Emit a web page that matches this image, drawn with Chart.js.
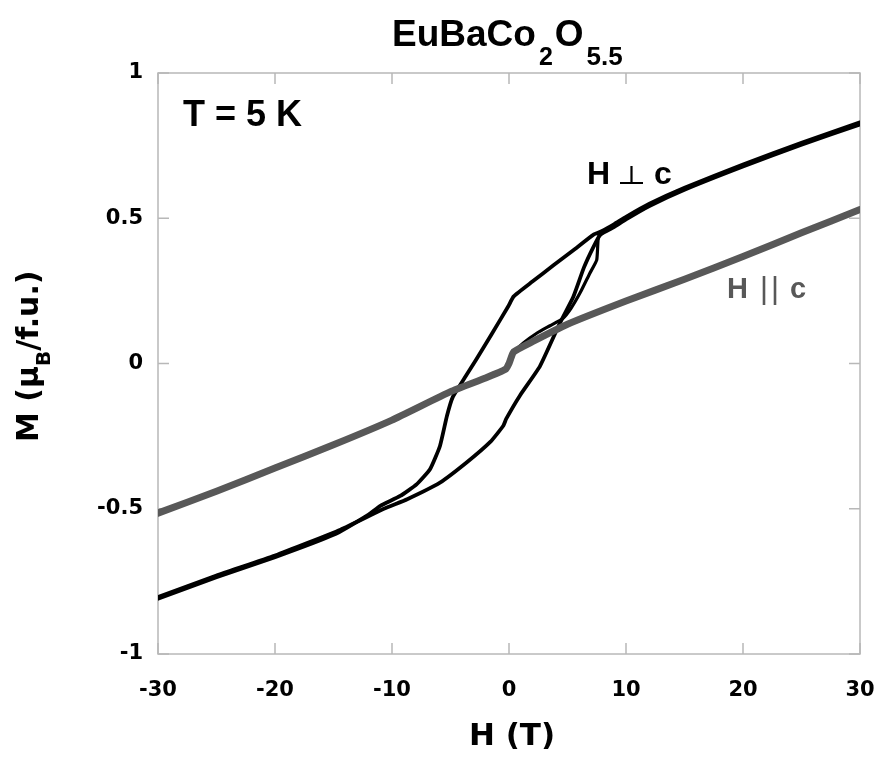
<!DOCTYPE html>
<html>
<head>
<meta charset="utf-8">
<script src="https://cdn.jsdelivr.net/npm/chart.js@4"></script>
<style>
  html, body { margin: 0; padding: 0; background: #fff; }
  #wrap { width: 879px; height: 757px; position: relative; }
</style>
</head>
<body>
<div id="wrap"><canvas id="loopChart"></canvas></div>
<script>
// M(H) at T = 5 K
const grayH = [-30, -25, -20, -15, -10, -5, -2, -0.3, 0, 0.4, 2, 5, 10, 15, 20, 25, 30];
const grayM = [-0.515, -0.44, -0.36, -0.28, -0.195, -0.097, -0.05, -0.02, 0.0, 0.04, 0.075, 0.135, 0.215, 0.29, 0.368, 0.45, 0.53];

// H perp c: field sweep down (+30 -> -30)
const downH = [30, 25, 20, 15, 12, 10, 9, 8, 7.2, 5.5, 3.8, 2, 0.4, -0.06, -1.5, -2.8, -3.8, -4.8, -5.3, -5.9, -6.75, -7.9, -9.3, -11, -12, -15, -20, -25, -30];
const downM = [0.83, 0.76, 0.685, 0.605, 0.55, 0.505, 0.48, 0.457, 0.443, 0.39, 0.338, 0.282, 0.231, 0.197, 0.10, 0.014, -0.05, -0.115, -0.18, -0.284, -0.364, -0.416, -0.456, -0.49, -0.52, -0.59, -0.667, -0.736, -0.81];

// H perp c: field sweep up (-30 -> +30)
const upH = [-30, -25, -20, -14.4, -10.7, -8.7, -5.9, -3.6, -1.6, -0.5, -0.23, 0.94, 2.65, 4.36, 5.5, 6.4, 7.2, 7.8, 9, 10, 12, 15, 20, 25, 30];
const upM = [-0.804, -0.73, -0.661, -0.572, -0.50, -0.467, -0.41, -0.34, -0.27, -0.215, -0.19, -0.11, -0.009, 0.14, 0.23, 0.33, 0.40, 0.443, 0.47, 0.496, 0.542, 0.598, 0.678, 0.753, 0.823];

// H perp c: virgin curve from zero field
const virginH = [0.3, 1.2, 2.4, 3.5, 4.6, 5.3, 6.1, 6.9, 7.5, 7.65, 8.2];
const virginM = [0.035, 0.07, 0.105, 0.13, 0.155, 0.19, 0.245, 0.31, 0.357, 0.437, 0.46];

const xTickValues = [-30, -20, -10, 0, 10, 20, 30];
const xTickLabels = ['-30', '-20', '-10', '0', '10', '20', '30'];
const yTickValues = [-1, -0.5, 0, 0.5, 1];
const yTickLabels = ['-1', '-0.5', '0', '0.5', '1'];

const toPoints = (xs, ys) => xs.map((x, i) => ({ x: x, y: ys[i] }));

const BLACK = '#000000';
const GRAY = '#585858';
const FRAME = '#b8b8b8';

// writes a run of text pieces one after another (for subscripts)
function drawRuns(ctx, x, y, runs) {
    let cx = x;
    runs.forEach(r => {
        ctx.font = r.font;
        ctx.fillText(r.text, cx, y + (r.dy || 0));
        cx += ctx.measureText(r.text).width + (r.gap || 0);
    });
}

const decorations = {
    id: 'decorations',
    beforeDatasetsDraw(chart) {
        const ctx = chart.ctx;
        const a = chart.chartArea;
        const xs = chart.scales.x, ys = chart.scales.y;
        ctx.save();
        ctx.strokeStyle = FRAME;
        ctx.lineWidth = 1.5;
        ctx.strokeRect(a.left, a.top, a.right - a.left, a.bottom - a.top);
        // inward ticks on all four sides
        ctx.beginPath();
        xTickValues.forEach(v => {
            const px = xs.getPixelForValue(v);
            ctx.moveTo(px, a.bottom); ctx.lineTo(px, a.bottom - 11);
            ctx.moveTo(px, a.top); ctx.lineTo(px, a.top + 11);
        });
        yTickValues.forEach(v => {
            const py = ys.getPixelForValue(v);
            ctx.moveTo(a.left, py); ctx.lineTo(a.left + 11, py);
            ctx.moveTo(a.right, py); ctx.lineTo(a.right - 11, py);
        });
        ctx.stroke();
        ctx.restore();
    },
    afterDraw(chart) {
        const ctx = chart.ctx;
        ctx.save();
        ctx.fillStyle = '#000';
        ctx.textBaseline = 'alphabetic';
        ctx.textAlign = 'left';

        // title EuBaCo2O5.5
        drawRuns(ctx, 392, 46, [
            { text: 'EuBaCo', font: 'bold 37px "Liberation Sans", Arial, sans-serif', gap: 3 },
            { text: '2', font: 'bold 25px "Liberation Sans", Arial, sans-serif', dy: 19, gap: 2 },
            { text: 'O', font: 'bold 37px "Liberation Sans", Arial, sans-serif', gap: 3 },
            { text: '5.5', font: 'bold 26px "Liberation Sans", Arial, sans-serif', dy: 19 }
        ]);

        // x axis title
        ctx.font = 'bold 31px "DejaVu Sans", sans-serif';
        ctx.textAlign = 'center';
        ctx.fillText('H (T)', 512, 745);
        ctx.textAlign = 'left';

        // y axis title, rotated
        ctx.save();
        ctx.translate(38, 442);
        ctx.rotate(-Math.PI / 2);
        drawRuns(ctx, 0, 0, [
            { text: 'M (\u03bc', font: 'bold 30px "DejaVu Sans", sans-serif' },
            { text: 'B', font: 'bold 20px "DejaVu Sans", sans-serif', dy: 12 },
            { text: '/f.u.)', font: 'bold 30px "DejaVu Sans", sans-serif' }
        ]);
        ctx.restore();

        // annotations
        ctx.font = 'bold 36px "Liberation Sans", Arial, sans-serif';
        ctx.fillText('T = 5 K', 183, 126);

        ctx.font = 'bold 32px "Liberation Sans", Arial, sans-serif';
        ctx.fillText('H', 587, 184);
        ctx.fillText('c', 654, 184);
        ctx.strokeStyle = '#000';
        ctx.lineWidth = 2.2;
        ctx.beginPath();
        ctx.moveTo(631.5, 166); ctx.lineTo(631.5, 183);
        ctx.moveTo(620, 183); ctx.lineTo(643, 183);
        ctx.stroke();

        ctx.fillStyle = GRAY;
        ctx.strokeStyle = GRAY;
        ctx.font = 'bold 29px "Liberation Sans", Arial, sans-serif';
        ctx.fillText('H', 727, 298);
        ctx.fillText('c', 790, 298);
        ctx.lineWidth = 2.6;
        ctx.beginPath();
        ctx.moveTo(764, 276); ctx.lineTo(764, 305);
        ctx.moveTo(775, 276); ctx.lineTo(775, 305);
        ctx.stroke();
        ctx.restore();
    }
};

const lineStyle = { showLine: true, pointRadius: 0, pointHoverRadius: 0, tension: 0.15, borderJoinStyle: 'round', borderCapStyle: 'round' };

new Chart(document.getElementById('loopChart'), {
    type: 'scatter',
    data: {
        datasets: [
            Object.assign({ label: 'H || c', data: toPoints(grayH, grayM), borderColor: GRAY, borderWidth: 7 }, lineStyle),
            Object.assign({ label: 'H perp c (down)', data: toPoints(downH, downM), borderColor: BLACK, borderWidth: 3.8 }, lineStyle),
            Object.assign({ label: 'H perp c (up)', data: toPoints(upH, upM), borderColor: BLACK, borderWidth: 3.8 }, lineStyle),
            Object.assign({ label: 'H perp c (virgin)', data: toPoints(virginH, virginM), borderColor: BLACK, borderWidth: 3.2 }, lineStyle)
        ]
    },
    options: {
        responsive: true,
        maintainAspectRatio: false,
        animation: false,
        layout: { padding: { top: 73, right: 19, left: 0, bottom: 0 } },
        plugins: { legend: { display: false }, tooltip: { enabled: false } },
        scales: {
            x: {
                type: 'linear', min: -30, max: 30,
                afterBuildTicks: s => { s.ticks = xTickValues.map(v => ({ value: v })); },
                afterFit: s => { s.height = 103; s.paddingLeft = 0; s.paddingRight = 0; },
                grid: { display: false, drawTicks: false },
                border: { display: false },
                ticks: {
                    padding: 24,
                    color: '#000',
                    font: { family: '"DejaVu Sans", sans-serif', weight: 'bold', size: 21 },
                    callback: (v, i) => xTickLabels[i]
                }
            },
            y: {
                type: 'linear', min: -1, max: 1,
                afterBuildTicks: s => { s.ticks = yTickValues.map(v => ({ value: v })); },
                afterFit: s => { s.width = 158; s.paddingTop = 0; s.paddingBottom = 0; },
                grid: { display: false, drawTicks: false },
                border: { display: false },
                ticks: {
                    padding: 15,
                    color: '#000',
                    font: { family: '"DejaVu Sans", sans-serif', weight: 'bold', size: 21 },
                    callback: (v, i) => yTickLabels[i]
                }
            }
        }
    },
    plugins: [decorations]
});
</script>
</body>
</html>
